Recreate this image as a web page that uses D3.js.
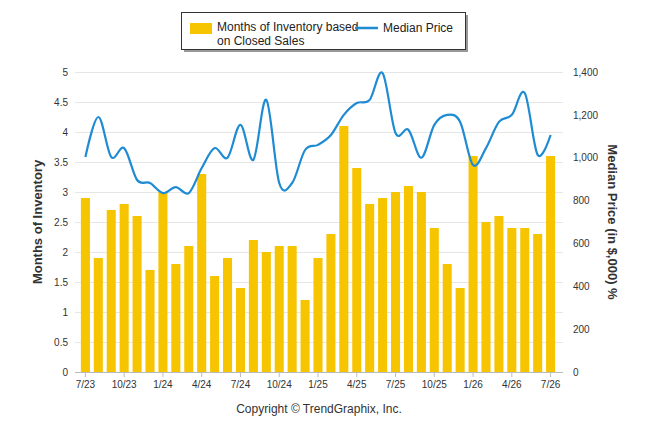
<!DOCTYPE html>
<html><head><meta charset="utf-8">
<script src="https://cdnjs.cloudflare.com/ajax/libs/d3/7.8.5/d3.min.js"></script>
<style>body{margin:0;background:#fff;font-family:Arial,"Liberation Sans",sans-serif}</style>
</head><body><svg id="c" width="646" height="434"></svg>
<script>
var months = ["7/23","8/23","9/23","10/23","11/23","12/23","1/24","2/24","3/24","4/24","5/24","6/24","7/24","8/24","9/24","10/24","11/24","12/24","1/25","2/25","3/25","4/25","5/25","6/25","7/25","8/25","9/25","10/25","11/25","12/25","1/26","2/26","3/26","4/26","5/26","6/26","7/26"];
var inventory = [2.9,1.9,2.7,2.8,2.6,1.7,3.0,1.8,2.1,3.3,1.6,1.9,1.4,2.2,2.0,2.1,2.1,1.2,1.9,2.3,4.1,3.4,2.8,2.9,3.0,3.1,3.0,2.4,1.8,1.4,3.6,2.5,2.6,2.4,2.4,2.3,3.6];
var medianPrice = [1003,1190,1003,1045,896,882,835,863,835,952,1045,1000,1153,990,1270,882,882,1036,1060,1106,1200,1255,1270,1395,1115,1130,1000,1153,1200,1167,966,1045,1167,1200,1302,1013,1106];
var tickLabels = ["7/23","10/23","1/24","4/24","7/24","10/24","1/25","4/25","7/25","10/25","1/26","4/26","7/26"];

var svg = d3.select("#c");
var L = 75, R = 563, T = 72, B = 372;
var x = d3.scaleBand().domain(months).range([L + 2, R - 4]).padding(0.3);
var yL = d3.scaleLinear().domain([0, 5]).range([B, T]);
var yR = d3.scaleLinear().domain([0, 1400]).range([B, T]);

// grid
svg.append("g").selectAll("line").data(d3.range(0, 5.01, 0.5)).enter().append("line")
  .attr("x1", L).attr("x2", R).attr("y1", function (d) { return yL(d) + 0.5; }).attr("y2", function (d) { return yL(d) + 0.5; })
  .attr("stroke", "#e6e6e6");

// bars
svg.append("g").selectAll("rect").data(inventory).enter().append("rect")
  .attr("x", function (d, i) { return x(months[i]); })
  .attr("width", x.bandwidth())
  .attr("y", function (d) { return yL(d); })
  .attr("height", function (d) { return B - yL(d); })
  .attr("fill", "#F7C400");

// line
var line = d3.line().curve(d3.curveCardinal)
  .x(function (d, i) { return x(months[i]) + x.bandwidth() / 2; })
  .y(function (d) { return yR(d); });
svg.append("path").datum(medianPrice).attr("d", line)
  .attr("fill", "none").attr("stroke", "#1E8BD3").attr("stroke-width", 2.2);

// axes
var ax = svg.append("g").attr("transform", "translate(" + L + ",0)")
  .call(d3.axisLeft(yL).tickValues(d3.range(0, 5.01, 0.5)).tickSize(0).tickPadding(7).tickFormat(d3.format("~g")));
var ar = svg.append("g").attr("transform", "translate(" + R + ",0)")
  .call(d3.axisRight(yR).tickValues(d3.range(0, 1401, 200)).tickSize(0).tickPadding(10));
var ab = svg.append("g").attr("transform", "translate(0," + B + ")")
  .call(d3.axisBottom(x).tickValues(tickLabels).tickSize(5).tickPadding(4));
[ax, ar, ab].forEach(function (g) {
  g.select(".domain").remove();
  g.selectAll("text").attr("fill", "#333").style("font-size", "10px").style("font-family", "Arial, Liberation Sans, sans-serif");
});
ab.selectAll("line").attr("stroke", "#bbb");
svg.append("line").attr("x1", L).attr("x2", R).attr("y1", B + 0.5).attr("y2", B + 0.5).attr("stroke", "#bbb");

// titles
svg.append("text").attr("transform", "translate(42," + (T + B) / 2 + ") rotate(-90)")
  .attr("text-anchor", "middle").style("font-size", "13px").style("font-weight", "bold").attr("fill", "#333")
  .text("Months of Inventory");
svg.append("text").attr("transform", "translate(608," + (T + B) / 2 + ") rotate(90)")
  .attr("text-anchor", "middle").style("font-size", "13px").style("font-weight", "bold").attr("fill", "#333")
  .text("Median Price (in $,000) %");
svg.append("text").attr("x", 319).attr("y", 413).attr("text-anchor", "middle")
  .style("font-size", "12px").attr("fill", "#333").text("Copyright \u00A9 TrendGraphix, Inc.");

// legend
svg.append("rect").attr("x", 184).attr("y", 15).attr("width", 284).attr("height", 37).attr("fill", "#999");
svg.append("rect").attr("x", 181.5).attr("y", 12.5).attr("width", 284).attr("height", 37).attr("fill", "#fff").attr("stroke", "#333");
svg.append("rect").attr("x", 190).attr("y", 23).attr("width", 22).attr("height", 11).attr("fill", "#F7C400");
svg.append("text").attr("x", 217).attr("y", 31).style("font-size", "12px").attr("fill", "#222").text("Months of Inventory based");
svg.append("text").attr("x", 217).attr("y", 45).style("font-size", "12px").attr("fill", "#222").text("on Closed Sales");
svg.append("line").attr("x1", 355).attr("x2", 378).attr("y1", 28).attr("y2", 28).attr("stroke", "#1E8BD3").attr("stroke-width", 2.5);
svg.append("text").attr("x", 383).attr("y", 32).style("font-size", "12px").attr("fill", "#222").text("Median Price");
</script></body></html>
